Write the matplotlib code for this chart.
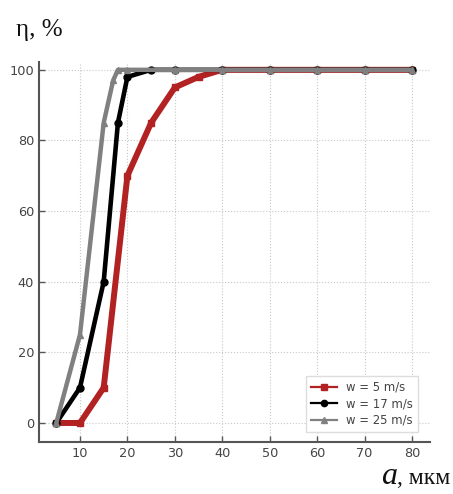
import matplotlib
matplotlib.use("Agg")
import matplotlib.pyplot as plt
from matplotlib.lines import Line2D

# particle size a, um (key points)
a_red = [5, 10, 15, 20, 25, 30, 35, 40, 50, 60, 70, 80]
eta_red = [0, 0, 10, 70, 85, 95, 98, 100, 100, 100, 100, 100]

a_black = [5, 10, 15, 18, 20, 25, 30, 40, 50, 60, 70, 80]
eta_black = [0, 10, 40, 85, 98, 100, 100, 100, 100, 100, 100, 100]

a_gray = [5, 10, 15, 17, 18, 20, 30, 40, 50, 60, 70, 80]
eta_gray = [0, 25, 85, 97, 100, 100, 100, 100, 100, 100, 100, 100]

labels = ['w = 5 m/s', 'w = 17 m/s', 'w = 25 m/s']
colors = ['#b22222', 'black', '#808080']
markers = ['s', 'o', '^']

xticks = [10, 20, 30, 40, 50, 60, 70, 80]
yticks = [0, 20, 40, 60, 80, 100]

fig = plt.figure(figsize=(4.53, 4.94), dpi=100)
W, H = 453, 494
ax = fig.add_axes([39 / W, 52.3 / H, (430 - 39) / W, (441.7 - 61.7) / H])

ax.plot(a_red, eta_red, color=colors[0], lw=4.3, marker=markers[0], ms=4,
        zorder=3)
ax.plot(a_black, eta_black, color=colors[1], lw=3.3, marker=markers[1], ms=5,
        zorder=4)
ax.plot(a_gray, eta_gray, color=colors[2], lw=3.2, marker=markers[2], ms=5,
        zorder=5)

ax.set_xlim(1.36, 83.8)
ax.set_ylim(-5.3, 102.3)
ax.set_xticks(xticks)
ax.set_yticks(yticks)

ax.grid(True, ls=':', color='#c8c8c8', lw=0.8)
for s in ['top', 'right']:
    ax.spines[s].set_visible(False)
for s in ['left', 'bottom']:
    ax.spines[s].set_color('#555555')
    ax.spines[s].set_linewidth(1.5)
ax.tick_params(direction='in', length=4, width=1, color='#555555',
               labelcolor='#444444', labelsize=9.3)

# legend
handles = [Line2D([], [], color=c, marker=m, lw=1.6, ms=4.5)
           for c, m in zip(colors, markers)]
leg = ax.legend(handles, labels, loc='lower right', fontsize=8.4,
                bbox_to_anchor=(0.985, 0.01), handlelength=2.2,
                borderpad=0.45, labelspacing=0.3, fancybox=False,
                framealpha=1, edgecolor='#dddddd')
for t in leg.get_texts():
    t.set_color('#444444')

serif = ['Liberation Serif', 'DejaVu Serif']
fig.text(16 / W, 1 - 36 / H, 'η, %', family=serif, fontsize=18, color='#111111')
fig.text(381 / W, 1 - 484 / H, 'a', family=serif, style='italic',
         fontsize=23, color='#111111')
fig.text(397 / W, 1 - 484 / H, ', мкм', family=serif, fontsize=17,
         color='#111111')

fig.savefig('out.png', dpi=100)
